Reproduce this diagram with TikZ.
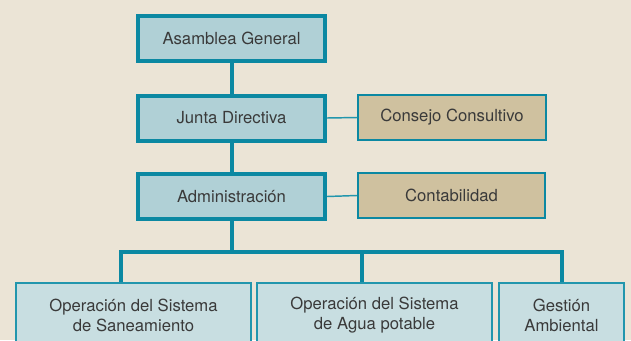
\documentclass[tikz,border=0pt]{standalone}
\usepackage{fontspec}
\setmainfont{TeX Gyre Heros}
\definecolor{fondo}{HTML}{EBE4D6}
\definecolor{borde}{HTML}{0B88A2}
\definecolor{bordeclaro}{HTML}{2296AD}
\definecolor{azul}{HTML}{B0D0D6}
\definecolor{azulclaro}{HTML}{C8DEE1}
\definecolor{arena}{HTML}{CFC19F}
\definecolor{texto}{HTML}{3A3A3A}

\begin{document}
\begin{tikzpicture}[x=.75pt,y=-.75pt,
  every node/.style={text=texto,font=\fontsize{12.5}{15}\selectfont},
  jefe/.style={draw=borde,line width=3pt,fill=azul,minimum width=140.25pt,minimum height=33.75pt},
  apoyo/.style={draw=borde,line width=1.5pt,fill=arena,minimum width=140.6pt,minimum height=33.75pt},
  area/.style={draw=bordeclaro,line width=1.5pt,fill=azulclaro,align=center,minimum height=48pt},
  linea/.style={draw=borde,line width=3pt},
  fina/.style={draw=bordeclaro,line width=1.1pt}]
\fill[fondo] (0,0) rectangle (631,340);
\clip (0,0) rectangle (631,340);

% cabeza
\node[jefe] (asamblea) at (231.5,38.5) {Asamblea General};
\node[jefe] (junta) at (231.5,118) {Junta Directiva};
\node[jefe] (admin) at (231.5,196.5) {Administración};

% apoyo
\node[apoyo] (consejo) at (452,117.5) {Consejo Consultivo};
\node[apoyo] (conta) at (451.5,195.5) {Contabilidad};

% areas
\node[area,minimum width=176.25pt] (saneo) at (133.5,315) {Operación del Sistema\\de Saneamiento};
\node[area,minimum width=176.25pt] (agua) at (374.5,315) {Operación del Sistema\\de Agua potable};
\node[area,minimum width=93.75pt] (gestion) at (561.5,315) {Gestión\\Ambiental};

\coordinate (b1) at (121,252);
\coordinate (b2) at (362,252);
\coordinate (b3) at (562,252);

\draw[linea] (asamblea) -- (junta);
\draw[linea] (junta) -- (admin);
\draw[linea] (admin.south) -- (admin.south |- b1);
\draw[linea] (b1 |- saneo.north) -- (b1) -- (b3) -- (b3 |- gestion.north);
\draw[linea] (b2) -- (b2 |- agua.north);

\draw[fina] (junta.east) -- (consejo.west);
\draw[fina] (admin.east) -- (conta.west);

\end{tikzpicture}
\end{document}
